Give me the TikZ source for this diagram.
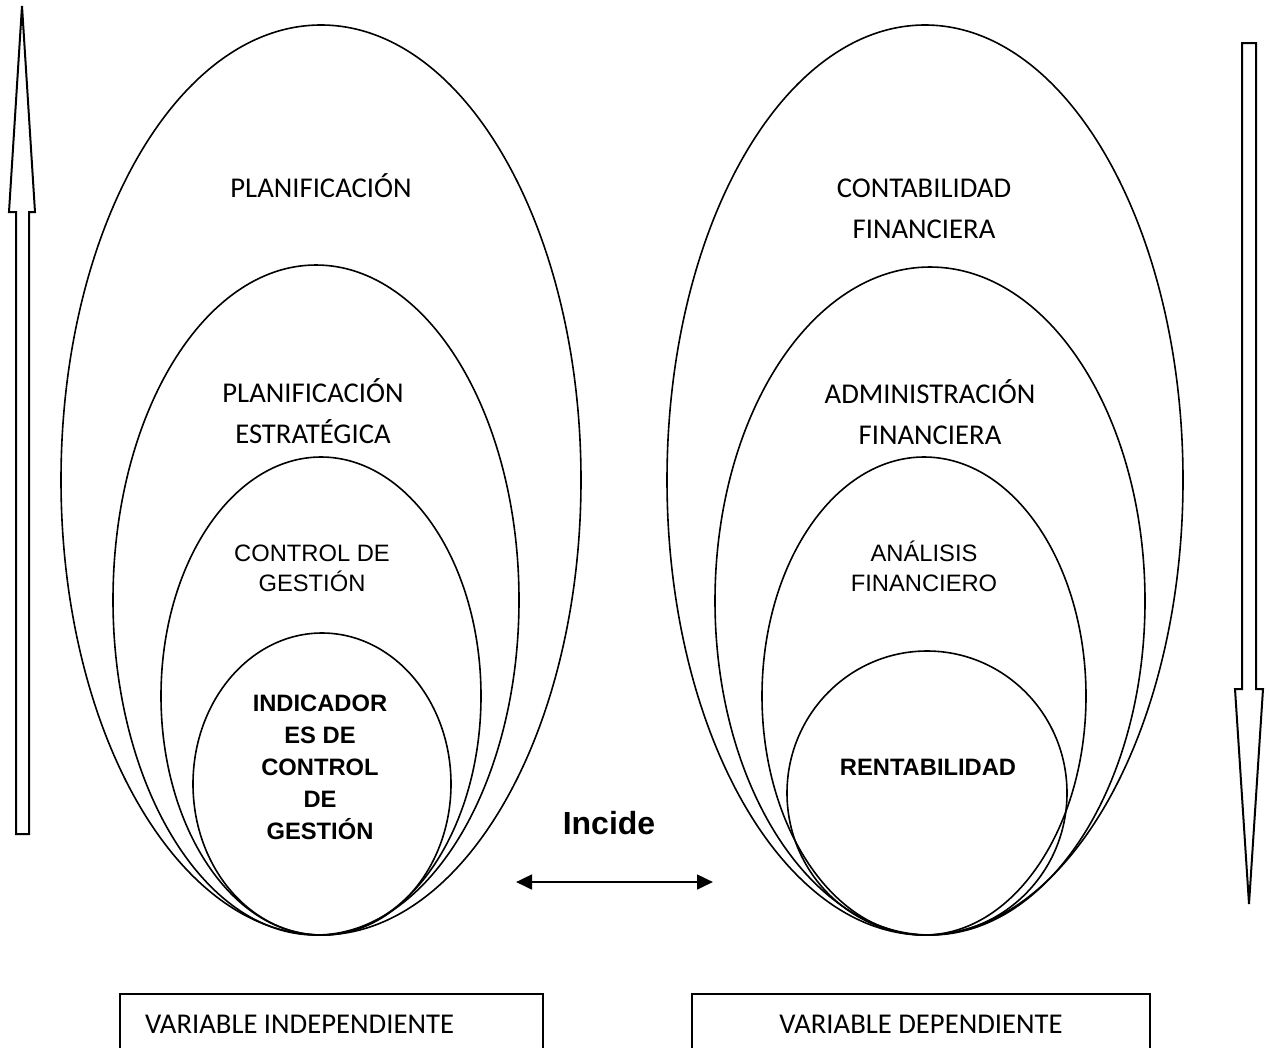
\documentclass[tikz,border=0pt]{standalone}
\usepackage{fontspec}
\usepackage{xcolor}
\usepackage{tikz}
\usetikzlibrary{shapes.geometric, arrows.meta, positioning}
\newfontfamily\calibrifont{Carlito}
\newfontfamily\arialfont{Liberation Sans}

\begin{document}
\begin{tikzpicture}[x=0.75pt, y=-0.75pt,
    shell/.style={draw, ellipse, line width=1.2pt, inner sep=0pt},
    calibtext/.style={font=\calibrifont\fontsize{21.5}{30.75}\selectfont, align=center, inner sep=0pt},
    arialtext/.style={font=\arialfont\fontsize{17.8}{22.5}\selectfont, align=center, inner sep=0pt},
    boldtext/.style={font=\arialfont\bfseries\fontsize{17.8}{24}\selectfont, align=center, inner sep=0pt},
    blockarrow/.style={draw, line width=1.5pt},
    varbox/.style={draw, rectangle, line width=1.1pt, minimum height=45.75pt, inner ysep=0pt,
        font=\calibrifont\fontsize{21.5}{26}\selectfont}]
    \path[use as bounding box, clip] (0,0) rectangle (1270,1047);

    \node[shell, minimum width=390pt, minimum height=682.5pt] (plan) at (321,480) {};
    \node[shell, minimum width=304.5pt, minimum height=502.5pt] (planest) at (316,600) {};
    \node[shell, minimum width=240pt, minimum height=358.5pt] (control) at (321,696) {};
    \node[shell, minimum width=193.5pt, minimum height=226.5pt] (indic) at (322,784) {};

    \node[shell, minimum width=387pt, minimum height=682.5pt] (contab) at (925,480) {};
    \node[shell, minimum width=322.5pt, minimum height=501pt] (admin) at (930,601) {};
    \node[shell, minimum width=243pt, minimum height=358.5pt] (analisis) at (924,696) {};
    \node[shell, minimum width=210pt, minimum height=213pt] (rentab) at (927,793) {};

    \node[calibtext] (planlabel) at (321,186) {PLANIFICACIÓN};
    \node[calibtext] (planestlabel) at (313,411) {PLANIFICACIÓN\\ESTRATÉGICA};
    \node[arialtext] (controllabel) at (312,568) {CONTROL DE\\GESTIÓN};
    \node[boldtext] (indiclabel) at (320,767.5) {INDICADOR\\ES DE\\CONTROL\\DE\\GESTIÓN};

    \node[calibtext] (contablabel) at (924,209) {CONTABILIDAD\\FINANCIERA};
    \node[calibtext] (adminlabel) at (930,412) {ADMINISTRACIÓN\\FINANCIERA};
    \node[arialtext] (analisislabel) at (924,566) {ANÁLISIS\\FINANCIERO};
    \node[boldtext] (rentablabel) at (928,767) {RENTABILIDAD};

    \draw[blockarrow] (16,834) -- (16,212) -- (9,212) -- (22,6) -- (35,212) -- (29,212) -- (29,834) -- cycle;
    \draw[blockarrow] (1242,43) -- (1256,43) -- (1256,689) -- (1263,689) -- (1249,904) -- (1235,689) -- (1242,689) -- cycle;

    \coordinate (incL) at (516,882);
    \coordinate (incR) at (713,882);
    \draw[{Triangle[length=12pt,width=11pt]}-{Triangle[length=12pt,width=11pt]}, line width=2pt] (incL) -- (incR);
    \node[font=\arialfont\bfseries\fontsize{24}{28}\selectfont, inner sep=0pt] (incide) at (609,823) {Incide};

    \node[varbox, text width=279.75pt, inner xsep=18.75pt, align=flush left] (indep) at (331.5,1024.5) {VARIABLE INDEPENDIENTE};
    \node[varbox, minimum width=343.5pt, align=center] (dep) at (921,1024.5) {VARIABLE DEPENDIENTE};
\end{tikzpicture}
\end{document}
